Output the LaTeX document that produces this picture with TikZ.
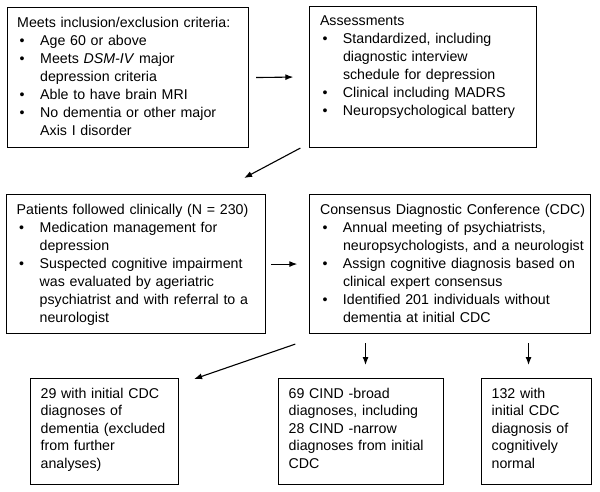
\documentclass[tikz,border=0pt]{standalone}
\usepackage{fontspec}
\setmainfont{Liberation Sans}
\usepackage{tikz}
\usetikzlibrary{shapes,arrows}
\usetikzlibrary{arrows.meta}
\newcommand{\bitem} {\makebox[23pt][l]{\hspace{2.5pt}\textbullet}}
\newcommand{\bcont} {\hspace*{23pt}}
\newcommand{\flowbox}[5] {\node at (#1) (#2) [draw, line width=1.1pt, anchor=north west, minimum width=#3, minimum height=#4] {}; \node at (#2.north west) (#2text) [anchor=north west, inner xsep=10.5pt, inner ysep=10pt, text width=#3, align=left, font=\fontsize{14.2}{18}\selectfont] {#5};}
\newcommand{\flowarrow}[2] {\draw [-{Latex[length=8pt,width=6pt]}, line width=1.1pt] (#1) -- (#2);}

\begin{document}
\begin{tikzpicture}[x=1pt, y=-1pt]
\useasboundingbox (0,0) rectangle (600,492);

\flowbox {6.5,7} {b1} {241.5pt} {140pt} {Meets inclusion/exclusion criteria:\\
  \bitem Age 60 or above\\
  \bitem Meets \textit{DSM-IV} major\\\bcont depression criteria\\
  \bitem Able to have brain MRI\\
  \bitem No dementia or other major\\\bcont Axis I disorder};
\flowbox {309.3,6} {b2} {226.7pt} {141pt} {Assessments\\
  \bitem Standardized, including\\\bcont diagnostic interview\\\bcont schedule for depression\\
  \bitem Clinical including MADRS\\
  \bitem Neuropsychological battery};
\flowbox {6,194} {b3} {259pt} {139pt} {Patients followed clinically (N = 230)\\
  \bitem Medication management for\\\bcont depression\\
  \bitem Suspected cognitive impairment\\\bcont was evaluated by ageriatric\\\bcont psychiatrist and with referral to a\\\bcont neurologist};
\flowbox {309.3,194} {b4} {280.7pt} {139pt} {Consensus Diagnostic Conference (CDC)\\
  \bitem Annual meeting of psychiatrists,\\\bcont neuropsychologists, and a neurologist\\
  \bitem Assign cognitive diagnosis based on\\\bcont clinical expert consensus\\
  \bitem Identified 201 individuals without\\\bcont dementia at initial CDC};
\flowbox {30,378} {b5} {148pt} {106pt} {\baselineskip=17.3pt 29 with initial CDC\\diagnoses of\\dementia (excluded\\from further\\analyses)};
\flowbox {278,378} {b6} {165pt} {106pt} {\baselineskip=17.3pt 69 CIND -broad\\diagnoses, including\\28 CIND -narrow\\diagnoses from initial\\CDC};
\flowbox {481,378} {b7} {110pt} {106pt} {\baselineskip=17.3pt 132 with\\initial CDC\\diagnosis of\\cognitively\\normal};

\flowarrow {[xshift=7pt]b1.east} {[xshift=-16pt]b2.west};
\flowarrow {[xshift=-9pt]b2.south west} {[xshift=-22pt,yshift=16pt]b3.north east};
\flowarrow {[xshift=5pt]b3.east} {[xshift=-12pt]b4.west};
\flowarrow {[xshift=-14pt,yshift=-10pt]b4.south west} {[xshift=15pt,yshift=-1pt]b5.north east};
\flowarrow {[xshift=4.5pt,yshift=35pt]b6.north} {[xshift=4.5pt,yshift=13pt]b6.north};
\flowarrow {[xshift=-8pt,yshift=35pt]b7.north} {[xshift=-8pt,yshift=13pt]b7.north};

\end{tikzpicture}
\end{document}
